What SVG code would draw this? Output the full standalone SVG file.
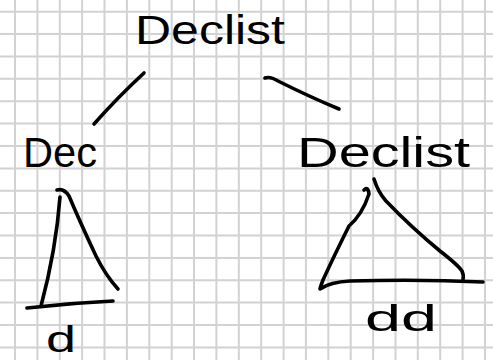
<svg xmlns="http://www.w3.org/2000/svg" width="493" height="360" viewBox="0 0 493 360">
  <style>
    .grid { stroke: #d2d2d2; stroke-width: 2; fill: none; }
    .ink { stroke: #000; stroke-width: 3.6; fill: none; stroke-linecap: round; stroke-linejoin: round; }
    .lbl { font-family: "Liberation Sans", "DejaVu Sans", sans-serif; fill: #000; }
  </style>
  <rect width="493" height="360" fill="#fff"/>
  <path class="grid" d="M15 0V360M37.4 0V360M59.8 0V360M82.1 0V360M104.5 0V360M126.9 0V360M149.3 0V360M171.7 0V360M194 0V360M216.4 0V360M238.8 0V360M261.2 0V360M283.6 0V360M305.9 0V360M328.3 0V360M350.7 0V360M373.1 0V360M395.5 0V360M417.8 0V360M440.2 0V360M462.6 0V360M485 0V360
    M0 11.7H493M0 34.1H493M0 56.5H493M0 78.8H493M0 101.2H493M0 123.6H493M0 146H493M0 168.4H493M0 190.7H493M0 213.1H493M0 235.5H493M0 257.9H493M0 280.3H493M0 302.6H493M0 325H493M0 347.4H493"/>

  <g id="connectors">
    <path class="ink" d="M144 73 Q118 97 94 124"/>
    <path class="ink" d="M265 78 Q270 76 278 81 Q310 97 339 109"/>
  </g>

  <g id="node-declist-root">
    <text class="lbl" x="135" y="44" font-size="41" textLength="150" lengthAdjust="spacingAndGlyphs">Declist</text>
  </g>

  <g id="node-dec">
    <text class="lbl" x="23" y="167" font-size="42" textLength="74" lengthAdjust="spacingAndGlyphs">Dec</text>
    <path class="ink" d="M60 197 Q56 250 41 306"/>
    <path class="ink" d="M57 190 Q64 188 69 196 Q80 222 96 256 Q106 276 118 289"/>
    <path class="ink" d="M27 308 Q70 303 113 301"/>
    <text class="lbl" x="46" y="352" font-size="36" textLength="30" lengthAdjust="spacingAndGlyphs">d</text>
  </g>

  <g id="node-declist-child">
    <text class="lbl" x="297" y="167" font-size="42" textLength="173" lengthAdjust="spacingAndGlyphs">Declist</text>
    <path class="ink" d="M364 190 Q368 186 369 194 Q362 215 349 226 Q334 256 323 280 Q320 288 320 289 Q330 282 350 281 Q420 279 483 282"/>
    <path class="ink" d="M374 179 Q378 192 386 201 Q412 228 440 251 Q458 265 462 271 Q464 276 463 279"/>
    <text class="lbl" x="365" y="331" font-size="36" textLength="72" lengthAdjust="spacingAndGlyphs">dd</text>
  </g>
</svg>
